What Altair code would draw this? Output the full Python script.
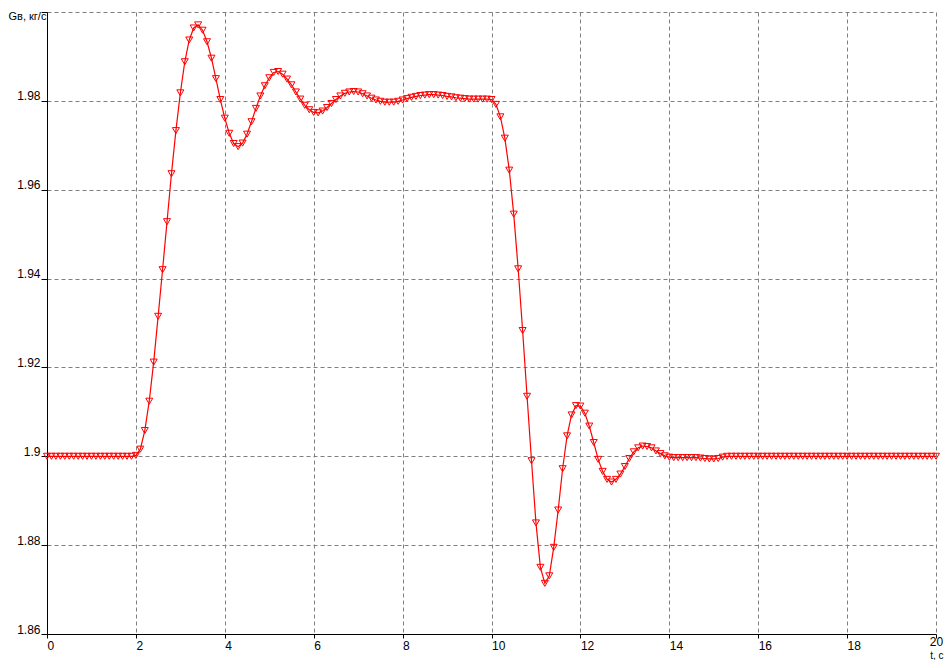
import altair as alt
import pandas as pd

# Gв, кг/с sampled every 0.1 s from 0 to 20 s
g_values = [
    1.9000, 1.9000, 1.9000, 1.9000, 1.9000, 1.9000, 1.9000, 1.9000, 1.9000, 1.9000,
    1.9000, 1.9000, 1.9000, 1.9000, 1.9000, 1.9000, 1.9000, 1.9000, 1.9000, 1.9000,
    1.9002, 1.9016, 1.9058, 1.9124, 1.9212, 1.9315, 1.9420, 1.9528, 1.9636, 1.9733,
    1.9818, 1.9888, 1.9937, 1.9964, 1.9971, 1.9959, 1.9933, 1.9896, 1.9850, 1.9803,
    1.9761, 1.9727, 1.9704, 1.9697, 1.9705, 1.9725, 1.9753, 1.9783, 1.9811, 1.9834,
    1.9852, 1.9864, 1.9866, 1.9860, 1.9849, 1.9836, 1.9820, 1.9804, 1.9790, 1.9780,
    1.9774, 1.9773, 1.9777, 1.9785, 1.9794, 1.9803, 1.9811, 1.9817, 1.9820, 1.9821,
    1.9820, 1.9816, 1.9811, 1.9806, 1.9802, 1.9799, 1.9797, 1.9797, 1.9797, 1.9799,
    1.9802, 1.9805, 1.9808, 1.9810, 1.9812, 1.9813, 1.9814, 1.9814, 1.9813, 1.9812,
    1.9810, 1.9809, 1.9807, 1.9806, 1.9805, 1.9804, 1.9804, 1.9804, 1.9804, 1.9804,
    1.9803, 1.9792, 1.9764, 1.9716, 1.9644, 1.9545, 1.9422, 1.9283, 1.9135, 1.8990,
    1.8850, 1.8750, 1.8714, 1.8731, 1.8795, 1.8879, 1.8972, 1.9046, 1.9093, 1.9114,
    1.9113, 1.9097, 1.9068, 1.9031, 1.8993, 1.8966, 1.8948, 1.8942, 1.8948, 1.8960,
    1.8977, 1.8995, 1.9010, 1.9019, 1.9023, 1.9022, 1.9019, 1.9012, 1.9006, 1.9001,
    1.8998, 1.8997, 1.8997, 1.8997, 1.8997, 1.8997, 1.8997, 1.8996, 1.8995, 1.8994,
    1.8994, 1.8995, 1.8998, 1.9000, 1.9000, 1.9000, 1.9000, 1.9000, 1.9000, 1.9000,
    1.9000, 1.9000, 1.9000, 1.9000, 1.9000, 1.9000, 1.9000, 1.9000, 1.9000, 1.9000,
    1.9000, 1.9000, 1.9000, 1.9000, 1.9000, 1.9000, 1.9000, 1.9000, 1.9000, 1.9000,
    1.9000, 1.9000, 1.9000, 1.9000, 1.9000, 1.9000, 1.9000, 1.9000, 1.9000, 1.9000,
    1.9000, 1.9000, 1.9000, 1.9000, 1.9000, 1.9000, 1.9000, 1.9000, 1.9000, 1.9000,
    1.9000,
]
t_step = 0.1
t_values = [round(i * t_step, 1) for i in range(len(g_values))]

x_ticks = [0, 2, 4, 6, 8, 10, 12, 14, 16, 18, 20]
y_ticks = [1.86, 1.88, 1.9, 1.92, 1.94, 1.96, 1.98, 2.0]

df = pd.DataFrame({"t": t_values, "g": g_values})

FONT = "Liberation Sans"

x_enc = alt.X(
    "t:Q",
    scale=alt.Scale(domain=[0, 20], nice=False, zero=False),
    axis=alt.Axis(
        values=x_ticks,
        title="t, c",
        titleX=896,
        titleY=24,
        titleAlign="right",
        titleBaseline="alphabetic",
        titleFontWeight="normal",
        titleFont=FONT,
        titleFontSize=10,
        titleColor="black",
        labelAlign={"condition": {"test": "datum.value >= 20", "value": "center"}, "value": "left"},
        labelPadding={"condition": {"test": "datum.value >= 20", "value": 7}, "value": 11},
        labelBaseline="alphabetic",
        labelFlush=False,
        labelOverlap=False,
        tickSize=4,
    ),
)
y_enc = alt.Y(
    "g:Q",
    scale=alt.Scale(domain=[1.86, 2.0], nice=False, zero=False),
    axis=alt.Axis(
        values=y_ticks,
        format=".2~f",
        labelExpr="datum.value > 1.999 ? '' : datum.label",
        title="Gв, кг/с",
        titleAngle=0,
        titleX=-39,
        titleY=7,
        titleAlign="left",
        titleBaseline="alphabetic",
        titleFontWeight="normal",
        titleFont=FONT,
        titleFontSize=11,
        titleColor="black",
        labelAlign="right",
        labelBaseline="alphabetic",
        labelOffset=-1,
        labelPadding=1,
        labelOverlap=False,
        tickSize=6,
    ),
)

base = alt.Chart(df)
line = base.mark_line(color="#ff0000", strokeWidth=1.2).encode(x=x_enc, y=y_enc)
pts = base.mark_point(
    shape="triangle-down", filled=False, color="#ff0000", size=49, strokeWidth=1, opacity=1
).encode(x="t:Q", y="g:Q")

chart = (
    alt.layer(line, pts)
    .properties(
        width=889,
        height=622,
        autosize=alt.AutoSizeParams(type="none"),
        padding={"left": 39, "top": 4, "right": 8, "bottom": 26},
    )
    .configure_view(stroke=None)
    .configure_axis(
        domainColor="black",
        domainWidth=1,
        tickColor="black",
        tickWidth=1,
        grid=True,
        gridColor="#808080",
        gridDash=[4, 3],
        gridWidth=1,
        labelFont=FONT,
        labelFontSize=12,
        labelColor="black",
    )
)

chart.save("out.html", embed_options={"renderer": "svg", "actions": False})
